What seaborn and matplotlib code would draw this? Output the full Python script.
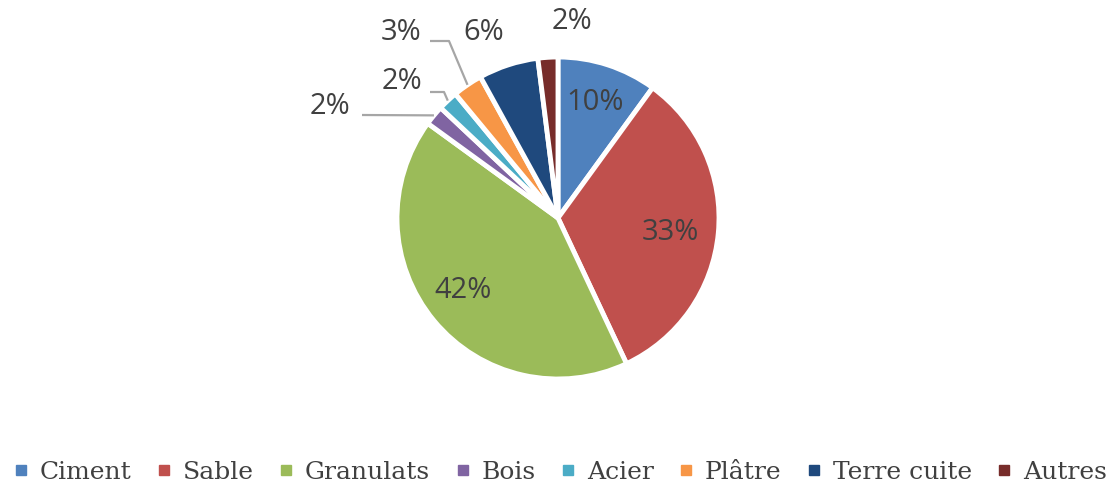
import numpy as np
import matplotlib
matplotlib.use("Agg")
import matplotlib.pyplot as plt
import seaborn as sns
from matplotlib.lines import Line2D

categories = ["Ciment", "Sable", "Granulats", "Bois", "Acier", "Plâtre", "Terre cuite", "Autres"]
values = [10, 33, 42, 2, 2, 3, 6, 2]
colors = ["#4F81BD", "#C0504D", "#9BBB59", "#8064A2", "#4BACC6", "#F79646", "#1F497D", "#772C2A"]

sns.set_theme(style="white")

W, H = 1118, 486
CX, CY, R = 558, 218, 161

fig = plt.figure(figsize=(W / 100, H / 100), dpi=100)
ax = fig.add_axes([0, 0, 1, 1])

def px(x, y):
    return ((x - CX) / R, (CY - y) / R)

wedges, _ = ax.pie(values, colors=colors, startangle=90, counterclock=False,
                   radius=1.0, center=(0, 0),
                   wedgeprops=dict(edgecolor="white", linewidth=3.5))
ax.set_xlim(px(0, 0)[0], px(W, 0)[0])
ax.set_ylim(px(0, H)[1], px(0, 0)[1])
ax.set_aspect("auto")
ax.axis("off")

txt = "#404040"
lab_font = ["Open Sans", "DejaVu Sans"]
lab_pos = [(595, 103), (670, 232), (463, 291), (330, 106), (402, 82), (401, 33), (484, 33), (572, 22)]
for v, (lx, ly) in zip(values, lab_pos):
    x, y = px(lx, ly)
    ax.text(x, y, f"{v}%", ha="center", va="center", fontsize=21, color=txt, family=lab_font)

leaders = {3: ((362, 115), (362, 115)), 4: ((430, 92), (444, 92)), 5: ((430, 41), (449, 41))}
for i, (s, e) in leaders.items():
    w = wedges[i]
    th = np.deg2rad((w.theta1 + w.theta2) / 2)
    ex, ey = np.cos(th) * 1.0, np.sin(th) * 1.0
    p1 = px(*s); p2 = px(*e)
    ax.plot([p1[0], p2[0], ex], [p1[1], p2[1], ey], color="#A6A6A6", lw=1.6, solid_capstyle="butt")

handles = [Line2D([0], [0], marker="s", linestyle="none", markersize=7,
                  markerfacecolor=c, markeredgecolor=c) for c in colors]
leg = fig.legend(handles, categories, loc="center", bbox_to_anchor=(0.5, 1 - 472 / H),
                 ncol=8, frameon=False, handletextpad=0.35, columnspacing=0.9,
                 handlelength=0.8, prop=dict(family="DejaVu Serif", size=18))
for t in leg.get_texts():
    t.set_color(txt)

fig.savefig("out.png", dpi=100)
